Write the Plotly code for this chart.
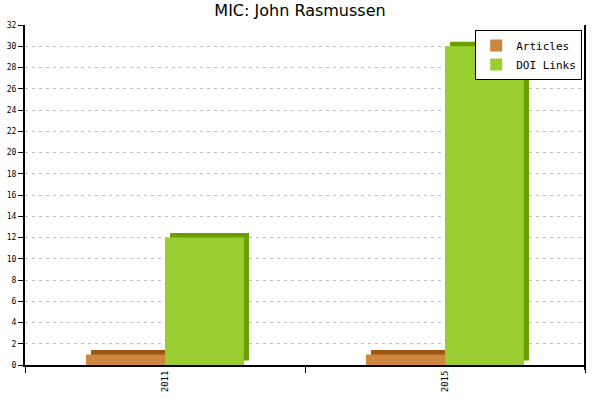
import plotly.graph_objects as go

categories = ["2011", "2015"]
articles = [1, 1]
doi_links = [12, 30]
y_ticks = list(range(0, 33, 2))

W = 0.282      # bar width in category units
DX = 0.018     # 3D depth (x)
DY = 0.42      # 3D depth (y)

fig = go.Figure()

def add_bar(values, front, dark, name, offset):
    fig.add_trace(go.Bar(x=categories, y=values, base=[DY]*len(values), offset=offset + DX, width=W,
                         marker=dict(color=dark, line=dict(width=0)), showlegend=False, hoverinfo="skip"))
    fig.add_trace(go.Bar(x=categories, y=values, offset=offset, width=W, name=name,
                         marker=dict(color=front, line=dict(width=0))))

add_bar(articles, "#CD853F", "#9A5512", "Articles", -W)
add_bar(doi_links, "#9ACD32", "#68A000", "DOI Links", 0)

mono = "DejaVu Sans Mono"
fig.update_layout(
    width=600, height=400,
    margin=dict(l=25, r=15, t=25, b=35),
    paper_bgcolor="white", plot_bgcolor="white",
    barmode="overlay",
    title=dict(text="MIC: John Rasmussen", x=0.5, xanchor="center", y=0.975, yanchor="middle",
               font=dict(family="DejaVu Sans", size=16, color="black")),
    legend=dict(x=0.995, xanchor="right", y=0.985, yanchor="top", bgcolor="white",
                bordercolor="black", borderwidth=1, font=dict(family=mono, size=11, color="black"),
                itemwidth=30, tracegroupgap=0),
    xaxis=dict(type="category", range=[-0.5, 1.5], showline=True, linecolor="black", linewidth=2,
               ticks="outside", ticklen=6, tickcolor="black", tickson="boundaries", automargin=False,
               tickangle=-90, tickfont=dict(family=mono, size=9, color="black"), showgrid=False),
    yaxis=dict(range=[0, 32], tickvals=y_ticks, showline=True, linecolor="black", linewidth=2,
               ticks="outside", ticklen=5, tickcolor="black", automargin=False,
               tickfont=dict(family=mono, size=8, color="black"),
               showgrid=True, gridcolor="#c0c0c0", griddash="3px,4px", gridwidth=1, zeroline=False),
)
fig.add_shape(type="line", xref="paper", yref="paper", x0=1, x1=1, y0=-0.015, y1=1,
              line=dict(color="black", width=2))

fig.write_html("out.html", config={"displayModeBar": False},
               post_script="document.body.style.margin='0';")
